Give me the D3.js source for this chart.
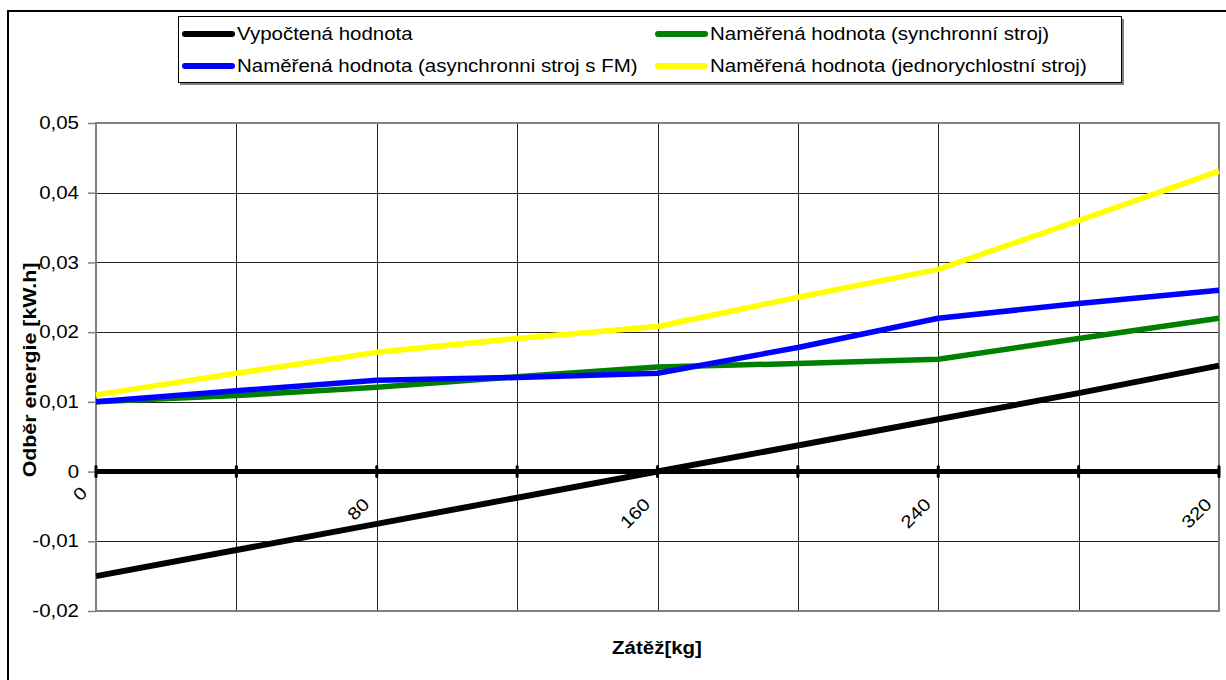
<!DOCTYPE html>
<html><head><meta charset="utf-8">
<script src="https://cdn.jsdelivr.net/npm/d3@7"></script>
<style>
body{margin:0;background:#fff;}
svg{display:block;font-family:"Liberation Sans",Arial,sans-serif;}
</style></head><body>
<svg id="c" width="1226" height="680"></svg>
<script>
const loads = [0, 40, 80, 120, 160, 200, 240, 280, 320];
const xTickLabels = [0, 80, 160, 240, 320];
const yTicks = [-0.02, -0.01, 0, 0.01, 0.02, 0.03, 0.04, 0.05];
const yTickLabels = ["-0,02", "-0,01", "0", "0,01", "0,02", "0,03", "0,04", "0,05"];
const seriesNames = ["Vypočtená hodnota", "Naměřená hodnota (synchronní stroj)", "Naměřená hodnota (asynchronni stroj s FM)", "Naměřená hodnota (jednorychlostní stroj)"];
const seriesColors = ["#000000", "#008000", "#0000ff", "#ffff00"];
const calculated = [-0.015, -0.01125, -0.0075, -0.00375, 0, 0.00375, 0.0075, 0.01125, 0.0152];
const synchronous = [0.0100, 0.0109, 0.0121, 0.0136, 0.0150, 0.0155, 0.0161, 0.0191, 0.0220];
const asynchronousFM = [0.0100, 0.0116, 0.0131, 0.0135, 0.0141, 0.0178, 0.0220, 0.0241, 0.0260];
const singleSpeed = [0.0110, 0.0141, 0.0171, 0.0191, 0.0208, 0.0250, 0.0290, 0.0360, 0.0431];
const seriesValues = [calculated, synchronous, asynchronousFM, singleSpeed];

const svg = d3.select("#c");
const L = 96, R = 1219, T = 123, B = 611;
const x = d3.scaleLinear().domain([0, 320]).range([L, R]);
const y = d3.scaleLinear().domain([-0.02, 0.05]).range([B, T]);
const FS = 17.5;

function stretch(sel, k) {
  sel.each(function () {
    const w = this.getComputedTextLength();
    d3.select(this).attr("textLength", w * k).attr("lengthAdjust", "spacingAndGlyphs");
  });
}

// outer frame
svg.append("line").attr("x1", 8).attr("x2", 8).attr("y1", 10).attr("y2", 680).attr("stroke", "#000").attr("stroke-width", 2);
svg.append("line").attr("x1", 7).attr("x2", 1226).attr("y1", 11).attr("y2", 11).attr("stroke", "#000").attr("stroke-width", 2);

// gridlines
const g = svg.append("g");
g.selectAll(".hg").data(yTicks).join("line")
  .attr("x1", L).attr("x2", R)
  .attr("y1", d => Math.round(y(d)) + 0.5).attr("y2", d => Math.round(y(d)) + 0.5)
  .attr("stroke", "#222").attr("stroke-width", 1);
g.selectAll(".vg").data(loads).join("line")
  .attr("y1", T).attr("y2", B)
  .attr("x1", d => Math.round(x(d)) + 0.5).attr("x2", d => Math.round(x(d)) + 0.5)
  .attr("stroke", "#222").attr("stroke-width", 1);

// plot border
svg.append("rect").attr("x", L).attr("y", T).attr("width", R - L).attr("height", B - T)
  .attr("fill", "none").attr("stroke", "#808080").attr("stroke-width", 2);

// y axis ticks and labels
const yAxis = d3.axisLeft(y).tickValues(yTicks).tickFormat((d, i) => yTickLabels[i]).tickSize(8).tickPadding(9);
const ya = svg.append("g").attr("transform", `translate(${L},0)`).call(yAxis);
ya.select(".domain").remove();
ya.selectAll(".tick line").attr("stroke", "#808080").attr("stroke-width", 1.5);
ya.selectAll(".tick text").attr("font-size", FS).attr("fill", "#000")
  .attr("font-family", "'Liberation Sans',Arial,sans-serif");
stretch(ya.selectAll(".tick text"), 1.17);

// zero axis line with ticks
svg.append("line").attr("x1", L).attr("x2", R).attr("y1", y(0)).attr("y2", y(0))
  .attr("stroke", "#000").attr("stroke-width", 5);
svg.selectAll(".zt").data(loads).join("line")
  .attr("x1", d => x(d)).attr("x2", d => x(d))
  .attr("y1", y(0) - 5).attr("y2", y(0) + 5)
  .attr("stroke", "#000").attr("stroke-width", 3).attr("stroke-linecap", "round");

// x tick labels (rotated)
svg.selectAll(".xl").data(xTickLabels).join("text")
  .attr("transform", d => d === 0
    ? `translate(${x(d) - 12},${y(0) + 18}) rotate(-45)`
    : `translate(${x(d) - 10.5},${y(0) + 29.5}) rotate(-45)`)
  .attr("text-anchor", "end").attr("dy", "0.35em")
  .attr("font-size", FS).text(d => d)
  .call(s => stretch(s, 1.17));

// series lines
const line = d3.line().x((d, i) => x(loads[i])).y(d => y(d));
const order = [0, 1, 2, 3];
svg.append("g").selectAll("path").data(order).join("path")
  .attr("d", i => line(seriesValues[i]))
  .attr("fill", "none")
  .attr("stroke", i => seriesColors[i])
  .attr("stroke-width", i => i === 0 ? 6 : 5.5)
  .attr("stroke-linejoin", "round");

// axis titles
svg.append("text").attr("x", 657).attr("y", 654).attr("text-anchor", "middle")
  .attr("font-size", FS).attr("font-weight", "bold").text("Zátěž[kg]")
  .call(s => stretch(s, 1.17));
svg.append("text").attr("transform", `translate(36,${(T + B) / 2 + 3}) rotate(-90)`)
  .attr("text-anchor", "middle").attr("font-size", FS).attr("font-weight", "bold")
  .text("Odběr energie [kW.h]")
  .call(s => stretch(s, 1.22));

// legend
const lg = svg.append("g");
lg.append("rect").attr("x", 180).attr("y", 19).attr("width", 944).attr("height", 66).attr("fill", "#808080");
lg.append("rect").attr("x", 178.5).attr("y", 16.5).attr("width", 943).attr("height", 66)
  .attr("fill", "#fff").attr("stroke", "#000").attr("stroke-width", 1);
const legPos = [[182, 34], [655, 34], [182, 66], [655, 66]];
order.forEach(i => {
  const [lx, ly] = legPos[i];
  lg.append("line").attr("x1", lx + 3).attr("x2", lx + 50).attr("y1", ly).attr("y2", ly)
    .attr("stroke", seriesColors[i]).attr("stroke-width", 6).attr("stroke-linecap", "round");
  lg.append("text").attr("x", lx + 55).attr("y", ly).attr("dy", "0.35em")
    .attr("font-size", FS).text(seriesNames[i]).call(s => stretch(s, 1.17));
});
</script>
</body></html>
